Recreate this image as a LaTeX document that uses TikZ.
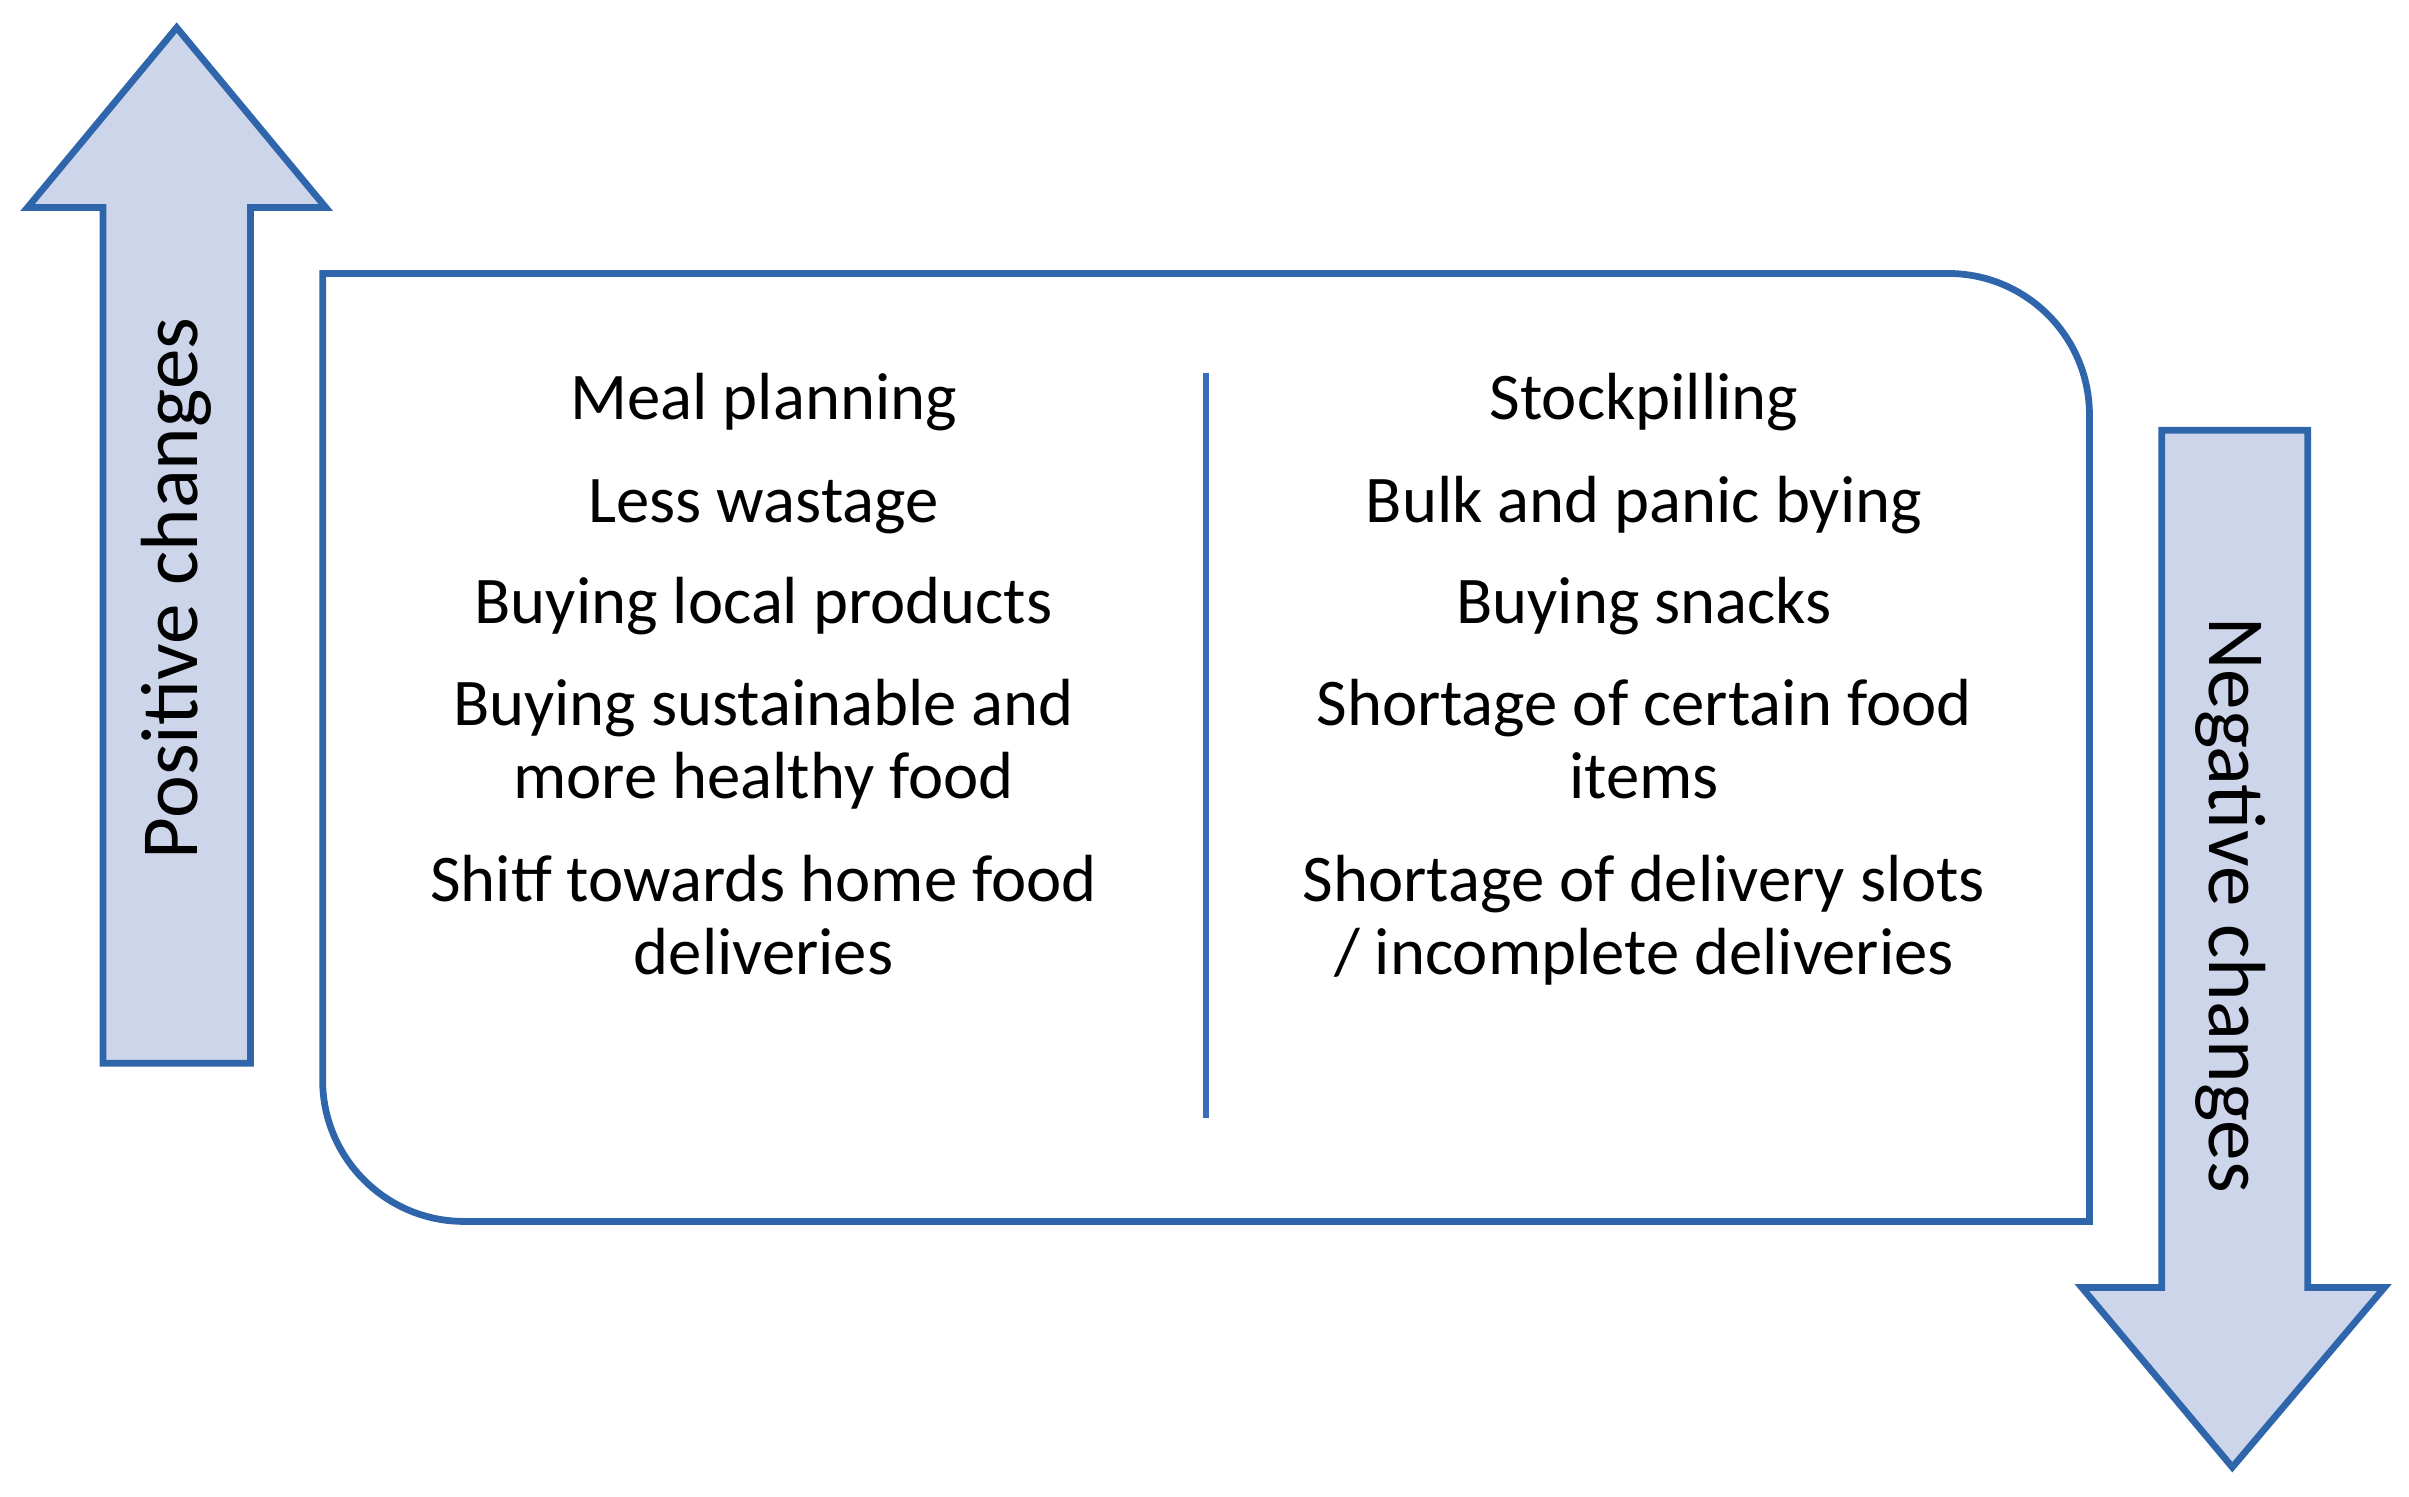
\documentclass[tikz,border=0pt]{standalone}
\usepackage{xcolor}
\usepackage{tikz}
\usepackage{fontspec}
\setmainfont{Carlito}

\begin{document}
\begin{tikzpicture}[x=0.5pt,y=0.5pt,yscale=-1,xscale=1,
  bigarrow/.style={draw={rgb, 255:red, 47; green, 101; blue, 170 }, fill={rgb, 255:red, 205; green, 213; blue, 234 }, line width=2.2pt, line join=miter},
  item/.style={anchor=base, inner sep=0.75pt, align=center, font=\fontsize{21.7}{23.75}\selectfont},
  side/.style={inner sep=0.75pt, font=\fontsize{26.4}{30}\selectfont}]
\useasboundingbox (0,0) rectangle (1568,974);

%Up Arrow
\draw [bigarrow] (115,18) -- (212,135) -- (163,135) -- (163,692) -- (67,692) -- (67,135) -- (18,135) -- cycle ;
%Down Arrow
\draw [bigarrow] (1453,955) -- (1552,838) -- (1502,838) -- (1502,280) -- (1407,280) -- (1407,838) -- (1355,838) -- cycle ;
%Box with two round corners
\draw [draw={rgb, 255:red, 47; green, 101; blue, 170 }, line width=2.2pt] (210,178) -- (1268,178) .. controls (1318.8,178) and (1360,219.2) .. (1360,270) -- (1360,795) -- (302,795) .. controls (251.2,795) and (210,753.8) .. (210,703) -- cycle ;
%Straight Lines
\draw [draw={rgb, 255:red, 59; green, 110; blue, 186 }, line width=1.8pt] (785,243) -- (785,728) ;

% Text Node
\draw (115,383) node [side, rotate=90] (pos) {Positive changes};
% Text Node
\draw (1452,589) node [side, rotate=-90] (neg) {Negative changes};

% Text Node
\draw (497,273) node [item] (meal) {Meal planning};
% Text Node
\draw (497,340) node [item] (waste) {Less wastage};
% Text Node
\draw (497,406) node [item] (local) {Buying local products};
% Text Node
\draw (497,520) node [item] (healthy) {Buying sustainable and\\more healthy food};
% Text Node
\draw (497,634) node [item] (homedel) {Shitf towards home food\\deliveries};

% Text Node
\draw (1070,273) node [item] (stock) {Stockpilling};
% Text Node
\draw (1070,340) node [item] (bulk) {Bulk and panic bying};
% Text Node
\draw (1070,406) node [item] (snacks) {Buying snacks};
% Text Node
\draw (1070,520) node [item] (shortfood) {Shortage of certain food\\items};
% Text Node
\draw (1070,634) node [item] (shortslots) {Shortage of delivery slots\\/ incomplete deliveries};

\end{tikzpicture}
\end{document}
